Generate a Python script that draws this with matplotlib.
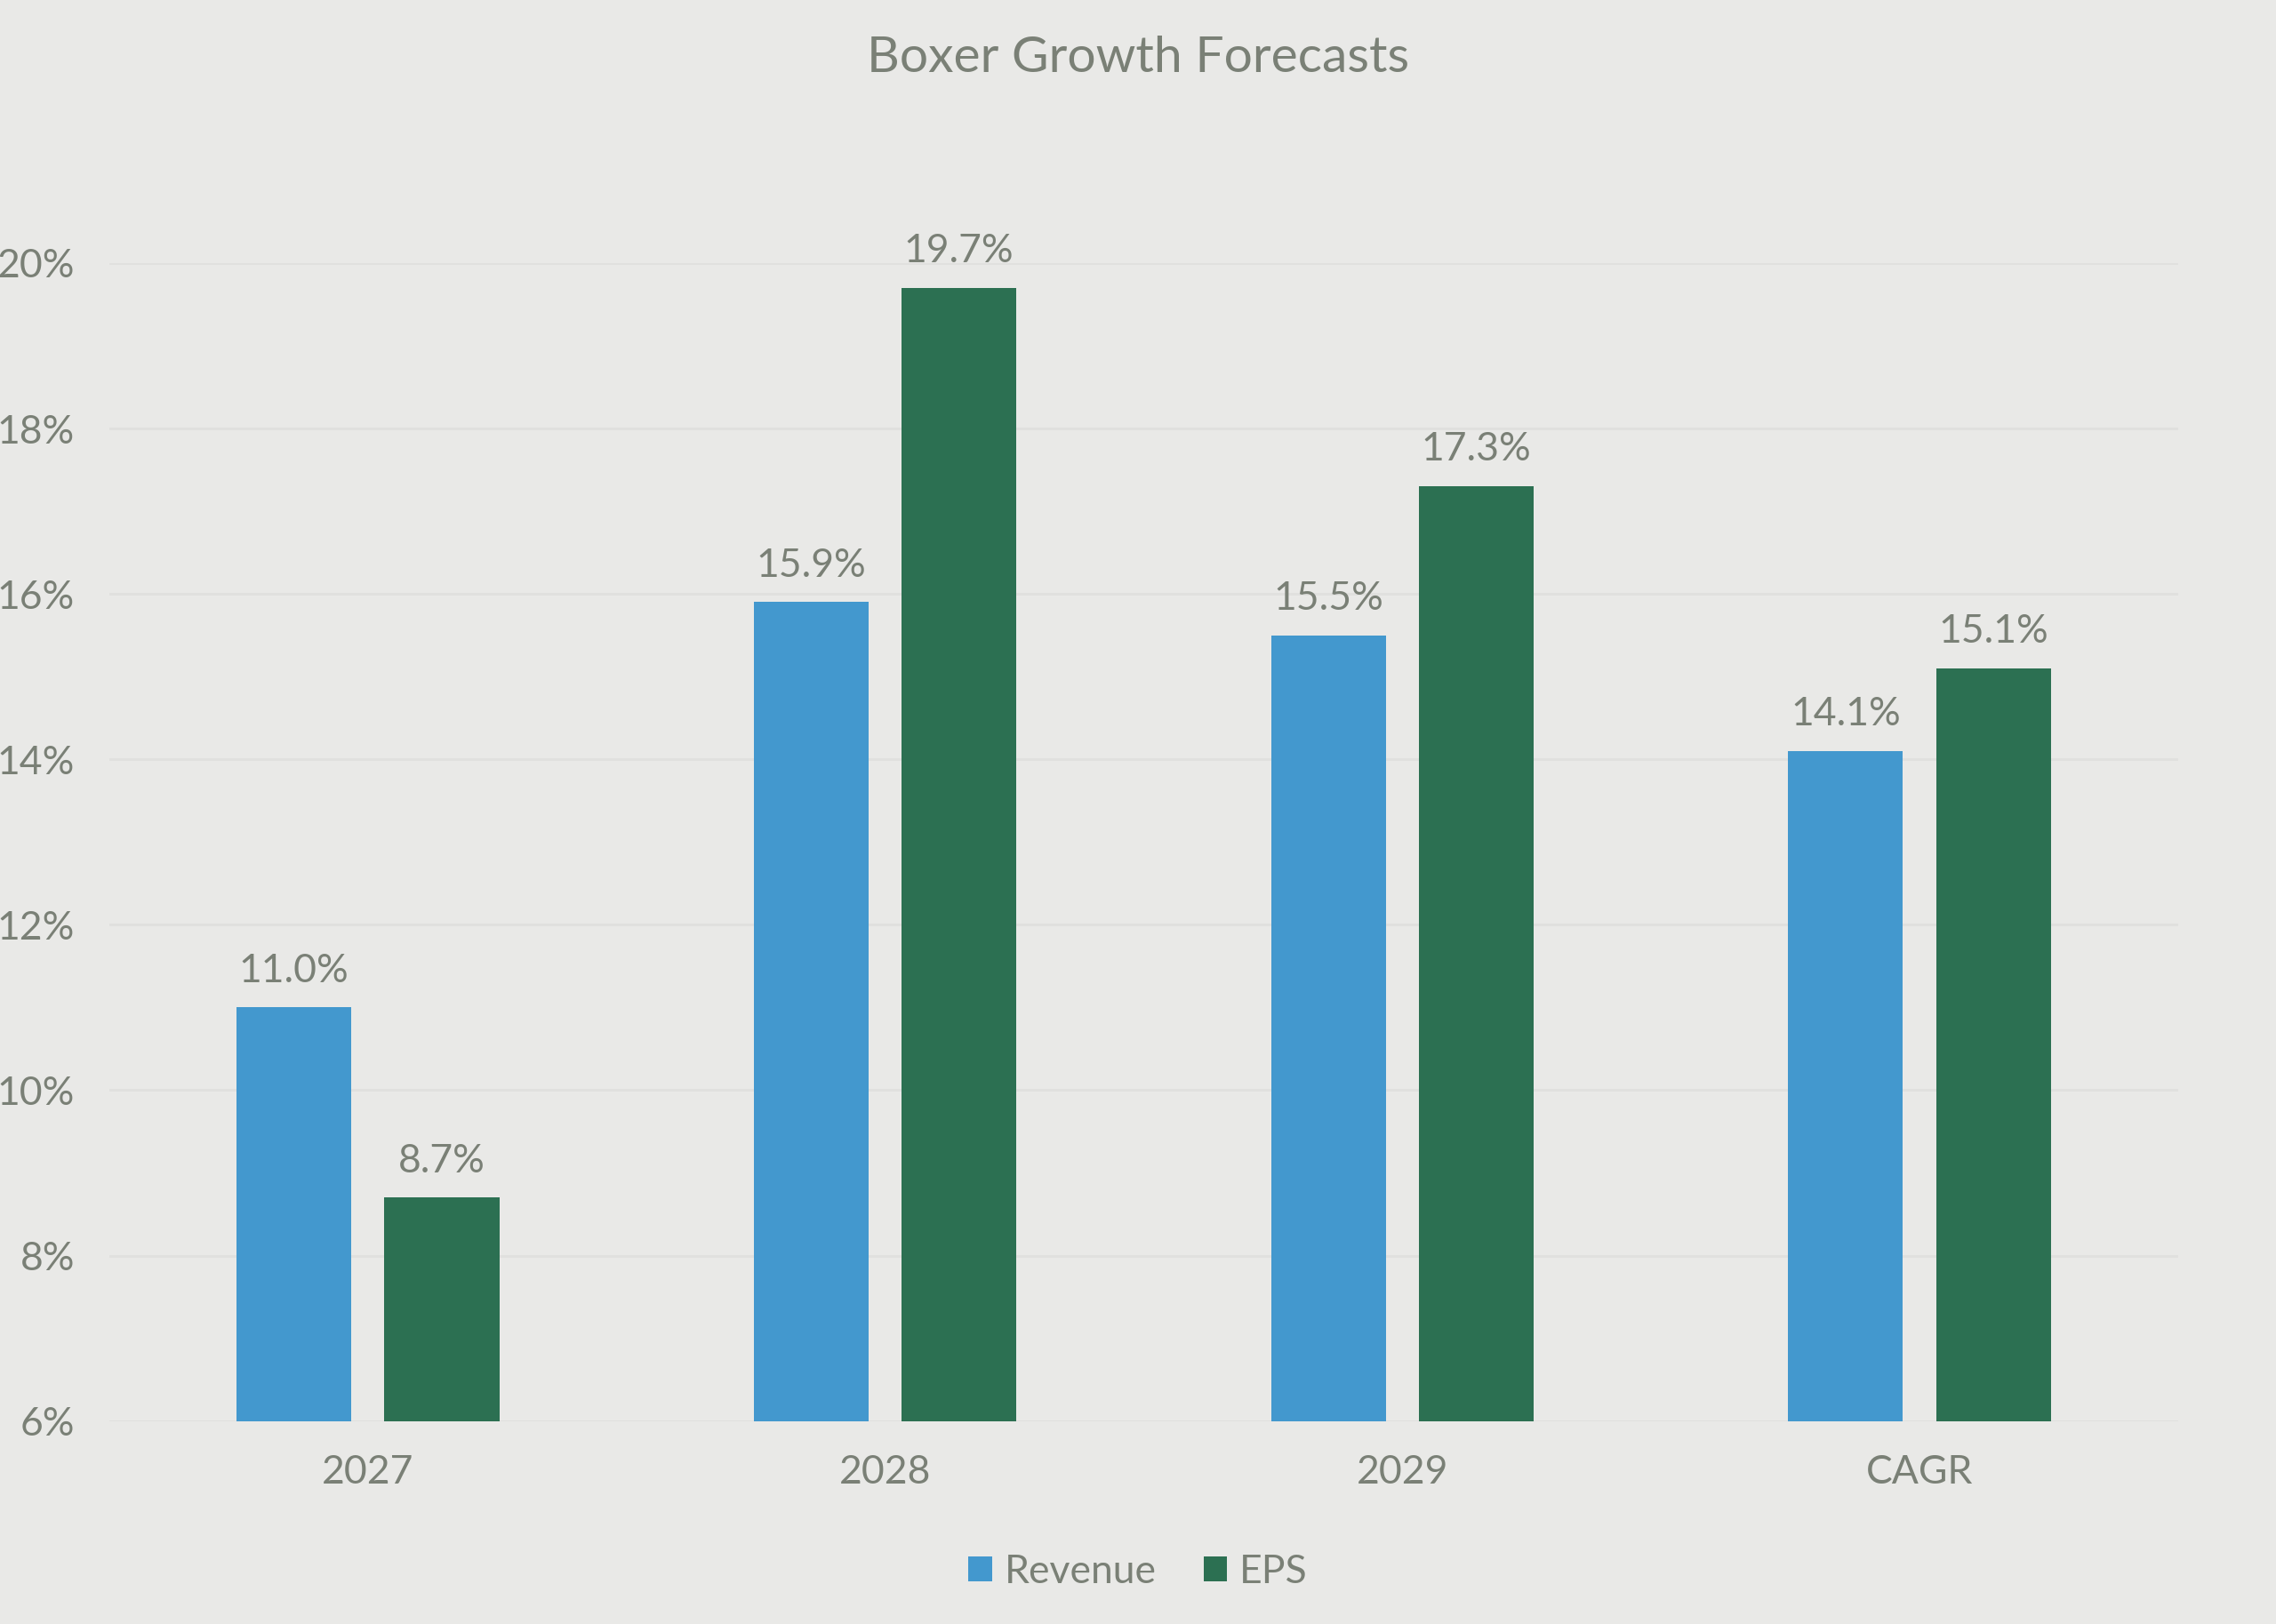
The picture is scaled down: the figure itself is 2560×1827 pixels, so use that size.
import numpy as np
import matplotlib
matplotlib.use("Agg")
import matplotlib.pyplot as plt
from matplotlib.ticker import FuncFormatter

categories = ["2027", "2028", "2029", "CAGR"]
revenue = [11.0, 15.9, 15.5, 14.1]
eps = [8.7, 19.7, 17.3, 15.1]
yticks = [6, 8, 10, 12, 14, 16, 18, 20]

bg = "#E9E9E7"
txt = "#7A8076"
blue = "#4398CE"
green = "#2C7052"

plt.rcParams['font.family'] = ['Lato', 'DejaVu Sans']

fig = plt.figure(figsize=(25.6, 18.27), dpi=100, facecolor=bg)
ax = fig.add_axes([0.048, 0.125, 0.909, 0.713], facecolor=bg)

x = np.arange(len(categories))
w = 0.222
off = 0.143
b1 = ax.bar(x - off, np.array(revenue) - 6, w, bottom=6, color=blue, label="Revenue", zorder=3)
b2 = ax.bar(x + off, np.array(eps) - 6, w, bottom=6, color=green, label="EPS", zorder=3)

for bars, vals in ((b1, revenue), (b2, eps)):
    for r, v in zip(bars, vals):
        ax.annotate(f"{v:.1f}%", (r.get_x() + r.get_width() / 2, v),
                    xytext=(0, 15), textcoords="offset points",
                    ha="center", va="bottom", fontsize=32, color=txt,
                    annotation_clip=False)

ax.set_xlim(-0.5, len(categories) - 0.5)
ax.set_ylim(6, 20)
ax.set_yticks(yticks)
ax.yaxis.set_major_formatter(FuncFormatter(lambda v, p: f"{v:.0f}%"))
ax.set_xticks(x)
ax.set_xticklabels(categories)
ax.tick_params(axis="both", length=0, labelsize=32, labelcolor=txt)
ax.tick_params(axis="y", pad=28)
ax.tick_params(axis="x", pad=27)
ax.grid(axis="y", color="#E0E0DE", linewidth=2, zorder=0)
for s in ax.spines.values():
    s.set_visible(False)

fig.text(0.5, 0.964, "Boxer Growth Forecasts", ha="center", va="center",
         fontsize=41, color=txt)

leg = fig.legend(loc="center", bbox_to_anchor=(0.5, 0.032), ncol=2, frameon=False,
                 fontsize=32, handlelength=0.6, handleheight=0.6,
                 handletextpad=0.3, columnspacing=1.2)
for t in leg.get_texts():
    t.set_color(txt)

fig.savefig("out.png", dpi=100, facecolor=bg)
